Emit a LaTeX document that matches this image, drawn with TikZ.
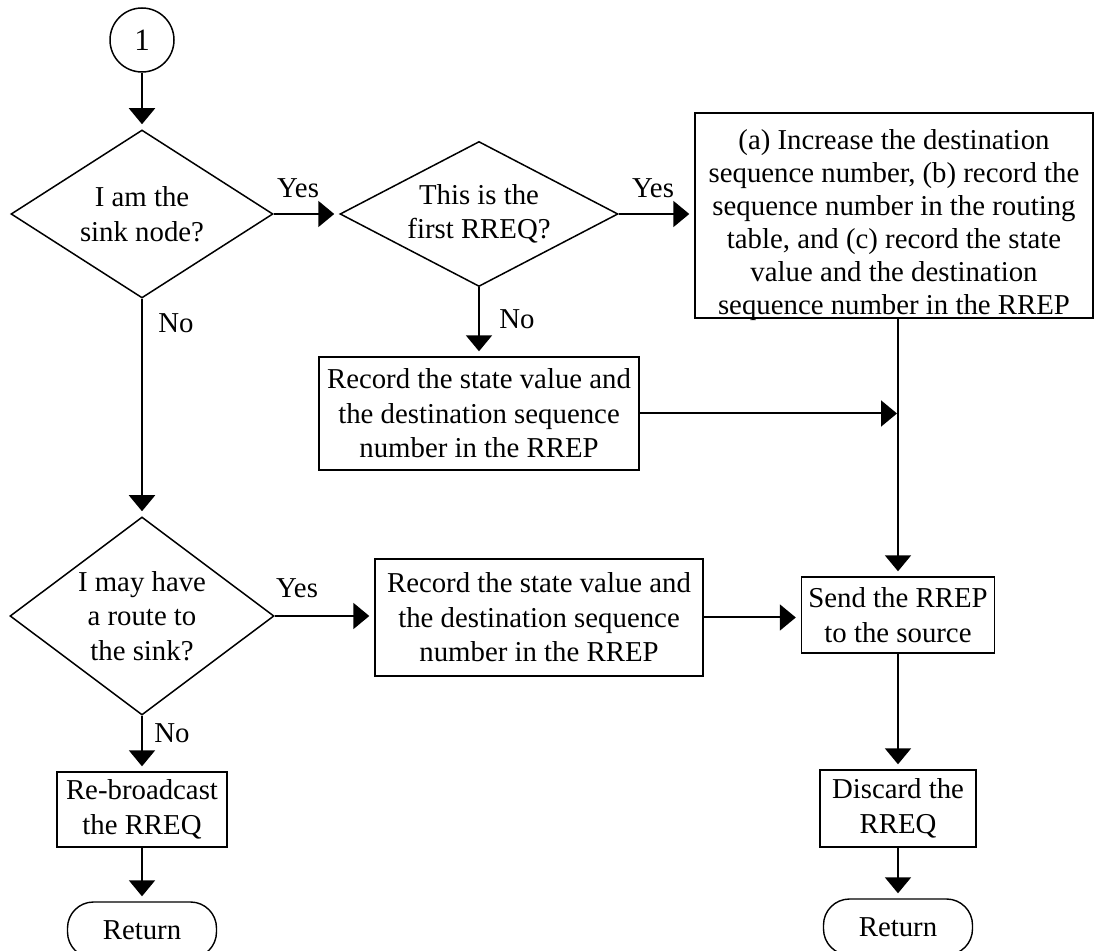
\documentclass[tikz,border=0pt]{standalone}
\usepackage{fontspec}
\setmainfont{Liberation Serif}
\usetikzlibrary{shapes.geometric,arrows.meta}
\begin{document}
\begin{tikzpicture}[x=0.5pt,y=-0.5pt,
 every node/.style={font=\fontsize{14.4pt}{17.25pt}\selectfont},
 box/.style={draw,line width=0.7pt,inner sep=2pt,align=center},
 dec/.style={draw,shape=diamond,line width=0.75pt,inner sep=0pt,align=center},
 term/.style={draw,line width=0.7pt,rounded corners=13pt,minimum width=74.5pt,minimum height=28pt,inner sep=0pt},
 conn/.style={line width=1pt,-{Triangle[width=13pt,length=8pt]},shorten >=2.5pt},
 lbl/.style={inner sep=0pt}]
\useasboundingbox (0,0) rectangle (1098,951);

\node[draw,circle,line width=0.75pt,minimum size=32pt,inner sep=0pt,font=\fontsize{15.5pt}{18pt}\selectfont] (start) at (142,40) {1};
\node[dec,aspect=1.56,minimum width=131pt,minimum height=84pt] (d1) at (142,214) {I am the\\sink node?};
\node[dec,aspect=1.92,minimum width=139pt,minimum height=72.5pt] (d2) at (479,214) {This is the\\first RREQ?};
\node[box,minimum width=199pt,minimum height=102.5pt] (inc) at (894,215.5) {};
\node[align=center,inner sep=0pt,font=\fontsize{14.4pt}{16.5pt}\selectfont] (inctxt) at (894,225) {(a) Increase the destination\\sequence number, (b) record the\\sequence number in the routing\\table, and (c) record the state\\value and the destination\\sequence number in the RREP};
\node[box,minimum width=160pt,minimum height=56.5pt] (rec1) at (479,413.5) {Record the state value and\\the destination sequence\\number in the RREP};
\node[dec,aspect=1.33,minimum width=132pt,minimum height=99pt] (d3) at (142,616) {I may have\\a route to\\the sink?};
\node[box,minimum width=164pt,minimum height=58.5pt] (rec2) at (539,617.5) {Record the state value and\\the destination sequence\\number in the RREP};
\node[box,minimum width=96.5pt,minimum height=38pt] (send) at (898,615) {Send the RREP\\to the source};
\node[box,minimum width=85pt,minimum height=37.5pt] (rebc) at (142,809.5) {Re-broadcast\\the RREQ};
\node[box,minimum width=78pt,minimum height=38.5pt] (disc) at (898,808.5) {Discard the\\RREQ};
\node[term] (ret1) at (142,930) {Return};
\node[term] (ret2) at (898,927) {Return};

\draw[conn] (start.south) -- (d1.north);
\draw[conn] (d1.east) -- (d2.west);
\draw[conn] (d2.east) -- (d2.east -| inc.west);
\draw[conn] (d2.south) -- (rec1.north);
\draw[conn] (send.north |- inc.south) -- (send.north);
\draw[conn,shorten >=0.5pt] (rec1.east) -- (rec1.east -| send.north);
\draw[conn] (d1.south) -- (d3.north);
\draw[conn] (d3.east) -- (d3.east -| rec2.west);
\draw[conn] (rec2.east) -- (rec2.east -| send.west);
\draw[conn] (d3.south) -- (rebc.north);
\draw[conn] (rebc.south) -- (ret1.north);
\draw[conn] (send.south) -- (disc.north);
\draw[conn] (disc.south) -- (ret2.north);

\node[lbl] (y1) at (298,188) {Yes};
\node[lbl] (y2) at (653,188) {Yes};
\node[lbl] (y3) at (297,588) {Yes};
\node[lbl] (n1) at (176,323) {No};
\node[lbl] (n2) at (517,319) {No};
\node[lbl] (n3) at (172,733) {No};
\end{tikzpicture}
\end{document}
